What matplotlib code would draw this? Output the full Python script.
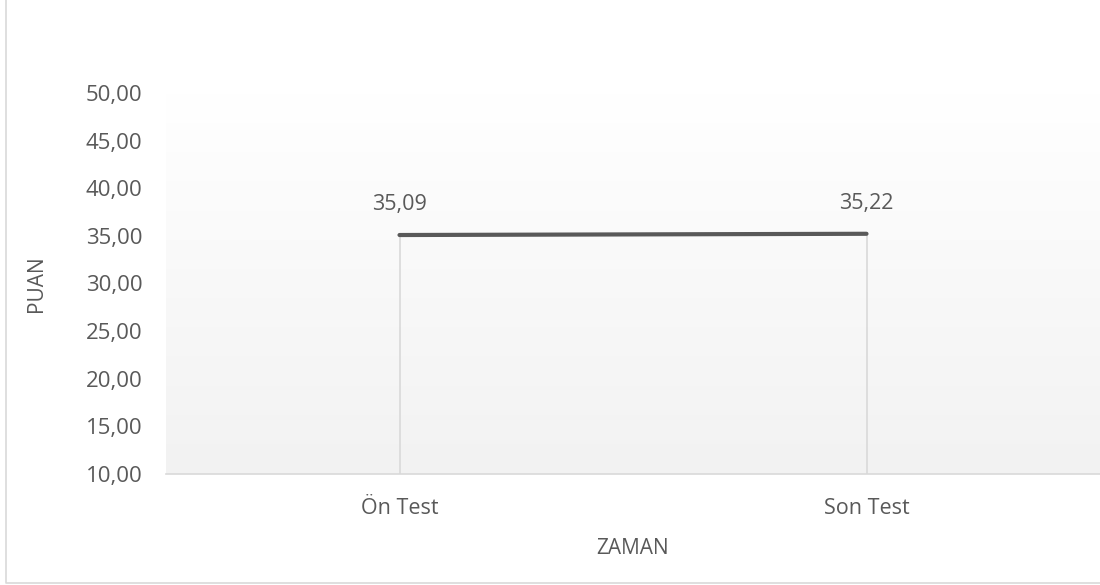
import numpy as np
import matplotlib.pyplot as plt
from matplotlib.lines import Line2D

categories = ["Ön Test", "Son Test"]
puan = [35.09, 35.22]
labels = ["35,09", "35,22"]
yticks = [10, 15, 20, 25, 30, 35, 40, 45, 50]

text_color = "#595959"
plt.rcParams["font.family"] = ["Open Sans", "DejaVu Sans"]

fig = plt.figure(figsize=(11, 5.85), dpi=100)
ax = fig.add_axes([166 / 1100, 1 - 474 / 585, 934 / 1100, 381 / 585])

# outer chart border (only left and bottom edges are inside the picture)
fig.lines.append(Line2D([6 / 1100, 6 / 1100, 1.0], [1.0, 2 / 585, 2 / 585],
                        transform=fig.transFigure, color="#d9d9d9", linewidth=1.2))

x = np.arange(len(categories))
ax.set_xlim(-0.5, len(categories) - 0.5)
ax.set_ylim(10, 50)

# gradient fill of the plot area, white at top to light grey at bottom
t = np.linspace(0, 1, 256)
shade = 1.0 + (0xf2 / 255 - 1.0) * t
img = np.repeat(shade[:, None, None], 3, axis=2)
ax.imshow(img, extent=[-0.5, len(categories) - 0.5, 10, 50], aspect="auto",
          zorder=0, origin="upper")

# drop lines
ax.vlines(x, 10, puan, color="#d9d9d9", linewidth=1.2, zorder=1)
ax.plot(x, puan, color=text_color, linewidth=3.0, solid_capstyle="round", zorder=2)

for xi, v, lab in zip(x, puan, labels):
    ax.annotate(lab, (xi, v), xytext=(0, 14.5), textcoords="offset points",
                ha="center", va="bottom", fontsize=15.5, color=text_color)

ax.set_xticks(x)
ax.set_xticklabels(categories)
ax.set_yticks(yticks)
ax.set_yticklabels([f"{v:.2f}".replace(".", ",") for v in yticks])
ax.tick_params(axis="both", length=0, colors=text_color)
ax.tick_params(axis="x", pad=17, labelsize=15.5)
ax.tick_params(axis="y", pad=17, labelsize=16)

for side in ["top", "right", "left"]:
    ax.spines[side].set_visible(False)
ax.spines["bottom"].set_color("#d9d9d9")
ax.spines["bottom"].set_linewidth(1.2)

ax.set_xlabel("ZAMAN", fontsize=15, color=text_color, labelpad=14)
ax.set_ylabel("PUAN", fontsize=15, color=text_color, labelpad=28)

fig.savefig("out.png", dpi=100)
